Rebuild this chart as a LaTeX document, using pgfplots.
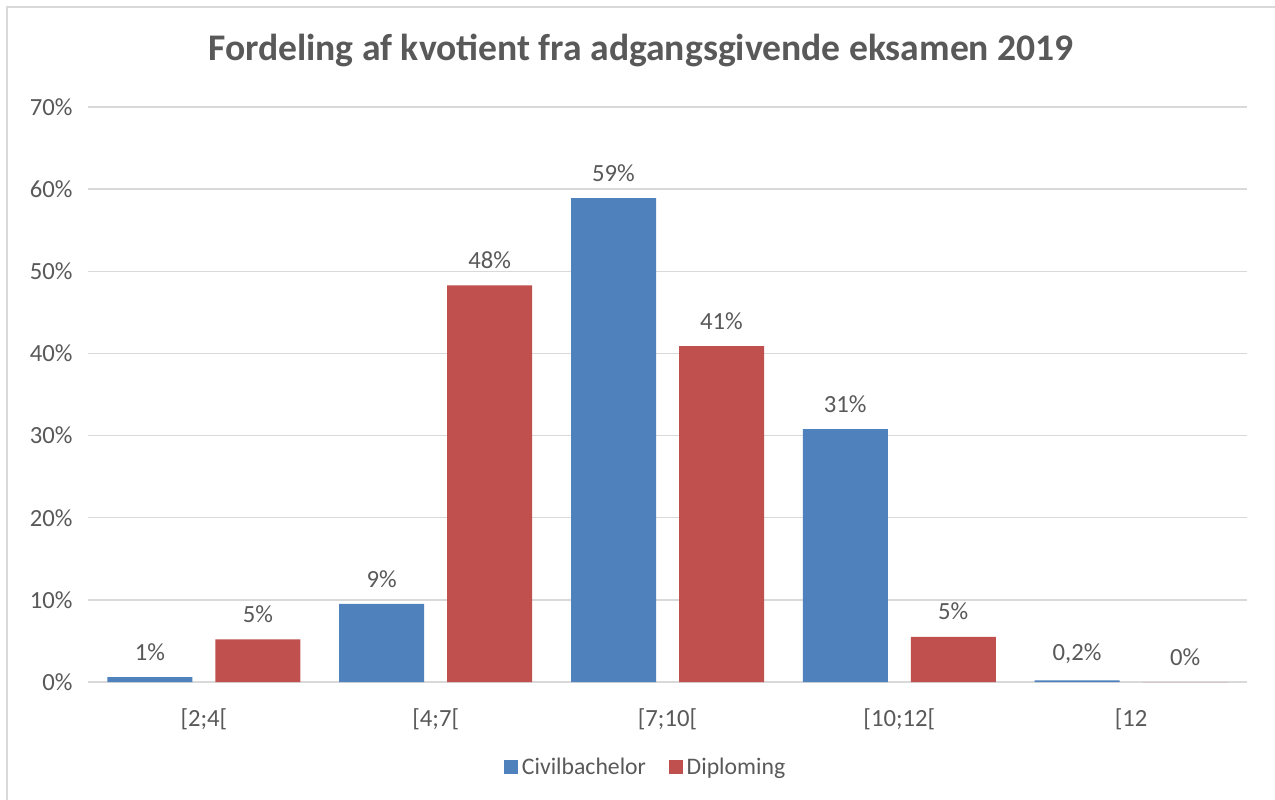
\documentclass[border=0pt]{standalone}
\usepackage{pgfplots}
\pgfplotsset{compat=1.18}
\usepackage{pgfplotstable}
\usepackage{fontspec}
\setmainfont{Carlito}
\definecolor{cblue}{HTML}{4F81BD}
\definecolor{cred}{HTML}{C0504D}
\definecolor{tgray}{HTML}{595959}
\definecolor{ggray}{HTML}{D9D9D9}
\pgfplotstableread{
x y lab
0 0.6 1\%
1 9.5 9\%
2 58.9 59\%
3 30.8 31\%
4 0.2 0,2\%
}\civil
\pgfplotstableread{
x y lab
0 5.2 5\%
1 48.3 48\%
2 40.9 41\%
3 5.5 5\%
4 0 0\%
}\diplom
\begin{document}
\begin{tikzpicture}
\useasboundingbox (0,0) rectangle (956.25pt,600pt);
\fill[white] (0,0) rectangle (956.25pt,600pt);
\draw[ggray,line width=1.5pt] (5.25pt,0) -- (5.25pt,594.75pt) -- (956.25pt,594.75pt);
\node[font=\fontsize{28.2}{30}\selectfont\bfseries,text=tgray] at (480.75pt,562.5pt) {Fordeling af kvotient fra adgangsgivende eksamen 2019};
\begin{axis}[
  at={(66pt,88.5pt)}, anchor=south west,
  scale only axis, width=869.25pt, height=431.25pt,
  xmin=-0.5, xmax=4.5, ymin=0, ymax=70,
  ytick={0,10,...,70},
  yticklabel={\pgfmathprintnumber{\tick}\%},
  xtick={0,1,2,3,4},
  xticklabels={\mbox{[2;4[},\mbox{[4;7[},\mbox{[7;10[},\mbox{[10;12[},\mbox{[12}},
  axis line style={draw=none},
  y axis line style={draw=none},
  x axis line style={draw=ggray,line width=1pt},
  axis x line*=bottom,
  axis y line*=left,
  tick style={draw=none},
  ymajorgrids, grid style={ggray,line width=1pt},
  ticklabel style={font=\fontsize{18.5}{20}\selectfont,text=tgray},
  /pgf/number format/assume math mode=true,
  yticklabel style={xshift=-8pt},
  xticklabel style={yshift=-12pt},
  ybar, bar width=63.75pt,
  enlargelimits=false,
  nodes near coords,
  point meta=explicit symbolic,
  nodes near coords style={font=\fontsize{18.5}{20}\selectfont,text=tgray,yshift=9pt},
  legend style={at={(0.4814,-0.148)},anchor=center,draw=none,legend columns=2,
    font=\fontsize{17.8}{20}\selectfont,text=tgray,
    /tikz/every odd column/.append style={column sep=1pt},
    /tikz/every even column/.append style={column sep=15pt}},
  legend image code/.code={\fill[#1] (0pt,-5.3pt) rectangle (10.5pt,5.3pt);},
  clip=false,
]
\addplot[fill=cblue,draw=none,bar shift=-40.5pt] table[x=x,y=y,meta=lab]{\civil};
\addplot[fill=cred,draw=none,bar shift=40.5pt] table[x=x,y=y,meta=lab]{\diplom};
\legend{Civilbachelor,Diploming}
\end{axis}
\end{tikzpicture}
\end{document}
